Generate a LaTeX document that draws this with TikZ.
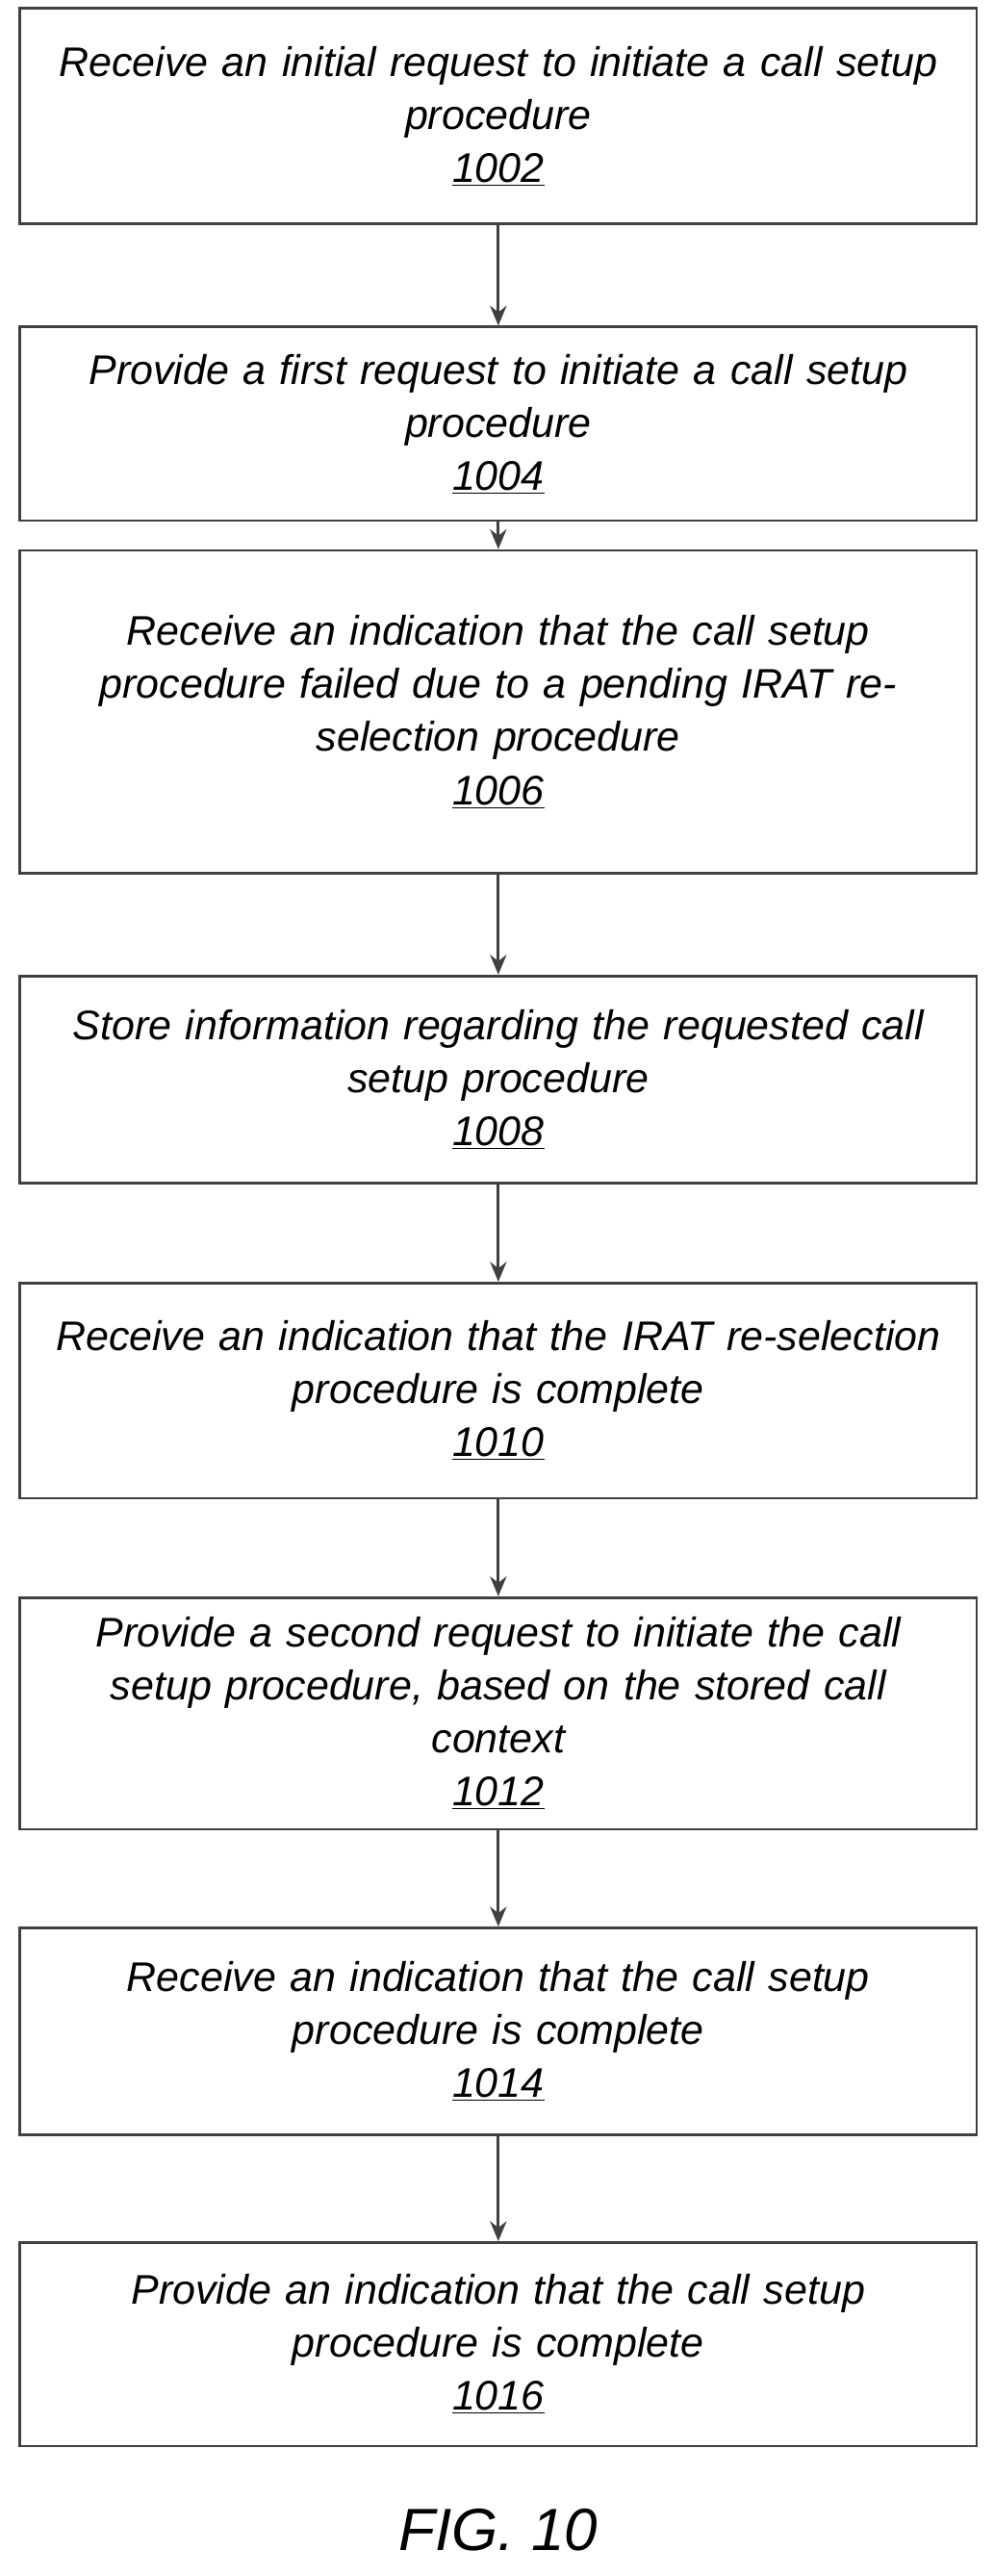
\documentclass[tikz,border=0pt]{standalone}
\usepackage{fontspec}
\setmainfont{Liberation Sans}
\usetikzlibrary{arrows.meta}
\tikzset{
  flowbox/.style={draw=black!75,line width=1.6pt,minimum width=578pt,text width=570pt,
    align=center,font=\itshape\fontsize{25}{32}\selectfont,inner sep=0pt},
  flow/.style={draw=black!75,line width=1.6pt,-{Stealth[length=12pt,width=10pt]}}
}
\newcommand{\stepno}[1]{\underline{#1}}
\begin{document}
\begin{tikzpicture}[y=1pt, x=1pt, yscale=-1]
  \path[use as bounding box] (0,0) rectangle (600,1556);

  \path (301,70) node[flowbox,minimum height=130pt] (s1002)
    {Receive an initial request to initiate a call setup\\procedure\\\stepno{1002}};
  \path (301,256) node[flowbox,minimum height=117pt] (s1004)
    {Provide a first request to initiate a call setup\\procedure\\\stepno{1004}};
  \path (301,430) node[flowbox,minimum height=195pt] (s1006)
    {Receive an indication that the call setup\\procedure failed due to a pending IRAT re-\\selection procedure\\\stepno{1006}};
  \path (301,652) node[flowbox,minimum height=125pt] (s1008)
    {Store information regarding the requested call\\setup procedure\\\stepno{1008}};
  \path (301,840) node[flowbox,minimum height=130pt] (s1010)
    {Receive an indication that the IRAT re-selection\\procedure is complete\\\stepno{1010}};
  \path (301,1035) node[flowbox,minimum height=140pt] (s1012)
    {Provide a second request to initiate the call\\setup procedure, based on the stored call\\context\\\stepno{1012}};
  \path (301,1227) node[flowbox,minimum height=125pt] (s1014)
    {Receive an indication that the call setup\\procedure is complete\\\stepno{1014}};
  \path (301,1416) node[flowbox,minimum height=123pt] (s1016)
    {Provide an indication that the call setup\\procedure is complete\\\stepno{1016}};

  \draw[flow] (s1002) -- (s1004);
  \draw[flow] (s1004) -- (s1006);
  \draw[flow] (s1006) -- (s1008);
  \draw[flow] (s1008) -- (s1010);
  \draw[flow] (s1010) -- (s1012);
  \draw[flow] (s1012) -- (s1014);
  \draw[flow] (s1014) -- (s1016);

  \path (301,1528) node[font=\itshape\fontsize{36}{40}\selectfont] (fig) {FIG. 10};
\end{tikzpicture}
\end{document}
